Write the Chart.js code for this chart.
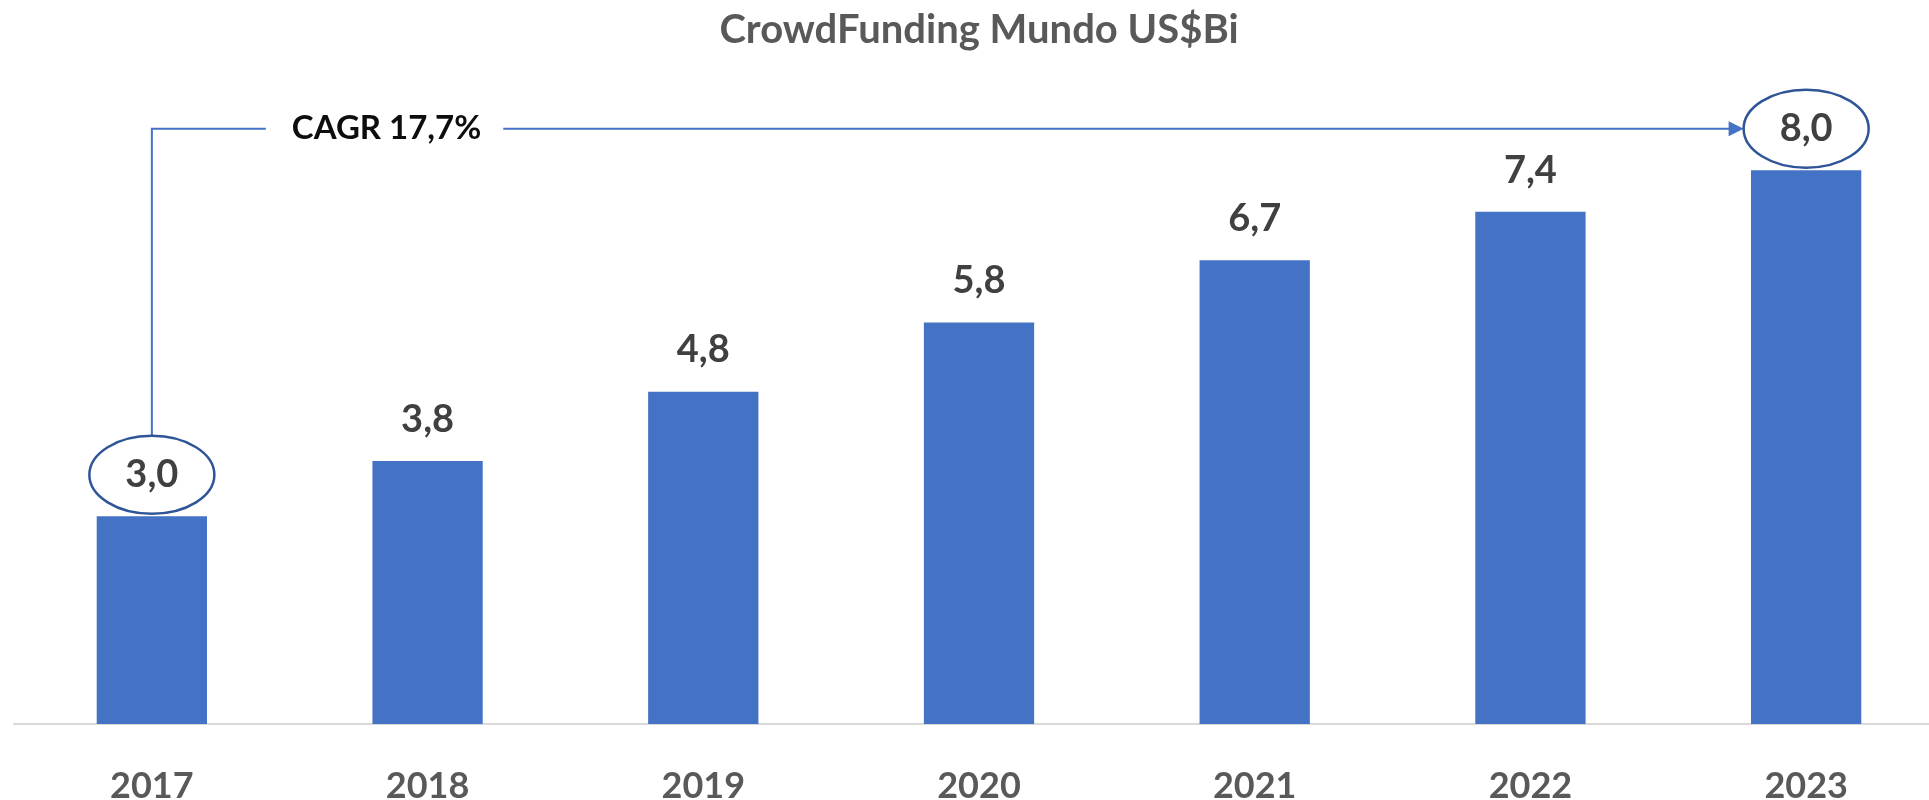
<!DOCTYPE html>
<html>
<head>
<meta charset="utf-8">
<script src="https://cdn.jsdelivr.net/npm/chart.js@4"></script>
<style>
  html, body { margin: 0; padding: 0; background: #fff; overflow: hidden; }
  #wrap { position: relative; width: 1944px; height: 800px; }
</style>
</head>
<body>
<div id="wrap"><canvas id="crowdChart"></canvas></div>
<script>
// Data
const years = ['2017', '2018', '2019', '2020', '2021', '2022', '2023'];
const volumes = [3.0, 3.8, 4.8, 5.8, 6.7, 7.4, 8.0]; // US$ Bi
const cagrText = 'CAGR 17,7%';
const chartTitle = 'CrowdFunding Mundo US$Bi';

const FONT = 'Lato';
const BLUE = '#4472C4';
const DARK_BLUE = '#2F5597';

// value labels on top of bars, plus the CAGR bracket with ellipses and arrow
const annotate = {
    id: 'annotate',
    afterDatasetsDraw(chart) {
        const ctx = chart.ctx;
        const meta = chart.getDatasetMeta(0);
        const labelGap = 41.5; // label centre above bar top
        const rx = 62.5, ry = 39;

        ctx.save();
        const first = meta.data[0];
        const last = meta.data[meta.data.length - 1];
        const firstY = first.y - labelGap;
        const lastY = last.y - labelGap;

        // bracket line
        ctx.strokeStyle = BLUE;
        ctx.lineWidth = 2;
        ctx.font = 'bold 33px ' + FONT;
        const textW = ctx.measureText(cagrText).width;
        const textLeft = first.x + 140;
        ctx.beginPath();
        ctx.moveTo(first.x, firstY - ry);
        ctx.lineTo(first.x, lastY);
        ctx.lineTo(textLeft - 26, lastY);
        ctx.moveTo(textLeft + textW + 22, lastY);
        ctx.lineTo(last.x - rx - 14, lastY);
        ctx.stroke();
        // arrow head
        ctx.fillStyle = BLUE;
        ctx.beginPath();
        ctx.moveTo(last.x - rx, lastY);
        ctx.lineTo(last.x - rx - 15, lastY - 7.5);
        ctx.lineTo(last.x - rx - 15, lastY + 7.5);
        ctx.closePath();
        ctx.fill();

        ctx.fillStyle = '#0D0D0D';
        ctx.textAlign = 'left';
        ctx.textBaseline = 'middle';
        ctx.fillText(cagrText, textLeft, lastY);

        // ellipses round first and last values
        ctx.strokeStyle = DARK_BLUE;
        ctx.lineWidth = 2.5;
        [first, last].forEach(bar => {
            ctx.beginPath();
            ctx.ellipse(bar.x, bar.y - labelGap, rx, ry, 0, 0, Math.PI * 2);
            ctx.stroke();
        });

        // value labels
        ctx.fillStyle = '#404040';
        ctx.font = 'bold 38px ' + FONT;
        ctx.textAlign = 'center';
        ctx.textBaseline = 'middle';
        meta.data.forEach((bar, i) => {
            ctx.fillText(volumes[i].toFixed(1).replace('.', ','), bar.x, bar.y - labelGap);
        });
        ctx.restore();
    }
};

const ctx = document.getElementById('crowdChart').getContext('2d');
const crowdChart = new Chart(ctx, {
    type: 'bar',
    data: {
        labels: years,
        datasets: [{
            label: chartTitle,
            data: volumes,
            backgroundColor: BLUE,
            borderWidth: 0,
            categoryPercentage: 1.0,
            barPercentage: 0.4
        }]
    },
    options: {
        responsive: true,
        maintainAspectRatio: false,
        animation: false,
        layout: { padding: { left: 14, right: 0, top: 0, bottom: 0 } },
        plugins: {
            legend: { display: false },
            tooltip: { enabled: false },
            title: {
                display: true,
                text: chartTitle,
                color: '#595959',
                font: { family: FONT, size: 40, weight: 'bold', lineHeight: 1.2 },
                padding: { top: 6, bottom: 47 }
            }
        },
        scales: {
            x: {
                grid: { display: false },
                border: { display: true, color: '#D9D9D9', width: 2 },
                ticks: {
                    color: '#595959',
                    padding: 33,
                    font: { family: FONT, size: 36, weight: 'bold' }
                },
                afterFit(axis) { axis.height = 76; }
            },
            y: {
                display: false,
                min: 0,
                max: 9
            }
        }
    },
    plugins: [annotate]
});
</script>
</body>
</html>
